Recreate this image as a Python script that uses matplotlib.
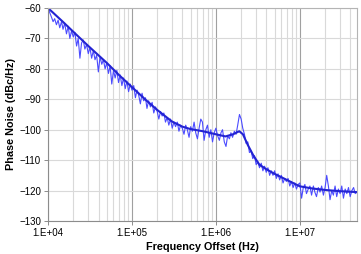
import matplotlib
matplotlib.use("Agg")
import matplotlib.pyplot as plt
from matplotlib.ticker import FuncFormatter, LogLocator, FixedLocator
import numpy as np

plt.rcParams['font.family'] = ['Liberation Sans', 'DejaVu Sans']

noisy_freq = [
    1.00e4, 1.05e4, 1.10e4, 1.15e4, 1.20e4, 1.26e4, 1.32e4, 1.38e4, 1.45e4, 1.51e4,
    1.58e4, 1.66e4, 1.74e4, 1.82e4, 1.91e4, 2.00e4, 2.09e4, 2.19e4, 2.29e4, 2.40e4,
    2.51e4, 2.63e4, 2.75e4, 2.88e4, 3.02e4, 3.16e4, 3.31e4, 3.47e4, 3.63e4, 3.80e4,
    3.98e4, 4.17e4, 4.37e4, 4.57e4, 4.79e4, 5.01e4, 5.25e4, 5.50e4, 5.75e4, 6.03e4,
    6.31e4, 6.61e4, 6.92e4, 7.24e4, 7.59e4, 7.94e4, 8.32e4, 8.71e4, 9.12e4, 9.55e4,
    1.00e5, 1.05e5, 1.10e5, 1.15e5, 1.20e5, 1.26e5, 1.32e5, 1.38e5, 1.45e5, 1.51e5,
    1.58e5, 1.66e5, 1.74e5, 1.82e5, 1.91e5, 2.00e5, 2.09e5, 2.19e5, 2.29e5, 2.40e5,
    2.51e5, 2.63e5, 2.75e5, 2.88e5, 3.02e5, 3.16e5, 3.31e5, 3.47e5, 3.63e5, 3.80e5,
    3.98e5, 4.17e5, 4.37e5, 4.57e5, 4.79e5, 5.01e5, 5.25e5, 5.50e5, 5.75e5, 6.03e5,
    6.31e5, 6.61e5, 6.92e5, 7.24e5, 7.59e5, 7.94e5, 8.32e5, 8.71e5, 9.12e5, 9.55e5,
    1.00e6, 1.05e6, 1.10e6, 1.15e6, 1.20e6, 1.26e6, 1.32e6, 1.38e6, 1.45e6, 1.51e6,
    1.58e6, 1.66e6, 1.74e6, 1.82e6, 1.91e6, 2.00e6, 2.09e6, 2.19e6, 2.29e6, 2.40e6,
    2.51e6, 2.63e6, 2.75e6, 2.88e6, 3.02e6, 3.16e6, 3.31e6, 3.47e6, 3.63e6, 3.80e6,
    3.98e6, 4.17e6, 4.37e6, 4.57e6, 4.79e6, 5.01e6, 5.25e6, 5.50e6, 5.75e6, 6.03e6,
    6.31e6, 6.61e6, 6.92e6, 7.24e6, 7.59e6, 7.94e6, 8.32e6, 8.71e6, 9.12e6, 9.55e6,
    1.00e7, 1.05e7, 1.10e7, 1.15e7, 1.20e7, 1.26e7, 1.32e7, 1.38e7, 1.45e7, 1.51e7,
    1.58e7, 1.66e7, 1.74e7, 1.82e7, 1.91e7, 2.00e7, 2.09e7, 2.19e7, 2.29e7, 2.40e7,
    2.51e7, 2.63e7, 2.75e7, 2.88e7, 3.02e7, 3.16e7, 3.31e7, 3.47e7, 3.63e7, 3.80e7,
    3.98e7, 4.17e7, 4.37e7, 4.57e7, 4.79e7,
]
noisy_db = [
    -60.0, -61.5, -63.0, -64.5, -63.5, -65.5, -64.0, -66.5, -64.5, -67.0,
    -65.0, -68.5, -66.0, -70.0, -67.5, -69.5, -68.0, -72.5, -70.0, -76.5,
    -71.5, -70.5, -73.5, -72.0, -75.0, -73.0, -76.5, -74.0, -77.0, -75.5,
    -81.0, -76.0, -78.5, -77.0, -80.0, -78.0, -81.5, -79.0, -85.0, -80.5,
    -83.0, -80.5, -84.5, -82.0, -85.5, -83.0, -86.5, -84.0, -87.5, -85.0,
    -87.0, -85.5, -89.5, -87.0, -88.5, -91.5, -88.0, -90.5, -89.5, -93.0,
    -90.5, -92.5, -91.0, -94.5, -92.5, -94.0, -96.5, -94.0, -95.5, -94.5,
    -97.5, -96.0, -98.5, -96.5, -99.5, -97.5, -99.0, -97.5, -100.5, -98.5,
    -99.5, -101.5, -98.5, -100.0, -102.5, -99.0, -100.5, -97.5, -101.0, -103.0,
    -99.5, -96.5, -97.5, -103.5, -100.0, -98.5, -102.5, -100.0, -104.0, -101.0,
    -99.5, -102.0, -103.5, -101.0, -100.0, -104.0, -105.5, -102.0, -103.0, -101.0,
    -102.5, -100.5, -101.5, -98.5, -95.0, -96.5, -99.5, -101.5, -104.5, -104.0,
    -107.5, -107.0, -109.5, -108.5, -111.5, -110.5, -112.5, -111.0, -113.5, -112.0,
    -114.0, -112.5, -115.0, -113.5, -115.0, -113.5, -116.0, -114.5, -116.5, -115.0,
    -117.5, -116.0, -117.0, -116.0, -118.5, -117.0, -119.0, -117.5, -119.5, -118.0,
    -117.5, -122.5, -119.0, -118.0, -121.0, -119.5, -118.5, -121.5, -118.5, -120.5,
    -122.0, -119.0, -120.5, -118.5, -121.5, -119.0, -115.0, -118.5, -123.0, -120.0,
    -121.5, -118.5, -122.0, -119.5, -121.0, -118.5, -122.5, -119.5, -121.0, -119.0,
    -122.0, -120.0, -119.0, -121.0, -120.5,
]

# smoothed trace
smooth_freq = [1e4, 1.5e4, 2e4, 3e4, 5e4, 7e4, 1e5, 1.5e5, 2e5, 3e5, 4e5, 5e5,
               7e5, 1e6, 1.3e6, 1.6e6, 1.9e6, 2.1e6, 2.4e6, 2.8e6, 3.3e6, 4e6,
               5e6, 7e6, 1e7, 1.4e7, 2e7, 3e7, 4.8e7]
smooth_db = [-60, -64.5, -67.8, -72.4, -78, -82, -86, -90.5, -93.5, -97.3, -99, -99.8,
             -100.5, -101.5, -102.2, -101.5, -100.5, -101.5, -105, -108.5, -111.5, -113,
             -114.5, -116.5, -118.6, -119.3, -119.8, -120.2, -120.5]

fig = plt.figure(figsize=(3.61, 2.54), dpi=100)
ax = fig.add_axes([48 / 361, 1 - 221 / 254, 309 / 361, 213 / 254])

ax.plot(noisy_freq, noisy_db, color='#4b4bff', linewidth=0.8)
ax.plot(smooth_freq, smooth_db, color='#2323d2', linewidth=1.5)

ax.set_xscale('log')
ax.set_xlim(1e4, 4.8e7)
ax.set_ylim(-130, -60)
ax.yaxis.set_major_locator(FixedLocator(np.arange(-130, -59, 10)))
ax.xaxis.set_major_locator(LogLocator(base=10))
ax.xaxis.set_minor_locator(LogLocator(base=10, subs=np.arange(2, 10)))
ax.xaxis.set_major_formatter(FuncFormatter(lambda v, p: "1.E+%02d" % round(np.log10(v))))

ax.grid(True, which='minor', axis='x', color='#d9d9d9', linewidth=0.8)
ax.grid(True, which='major', axis='x', color='#a0a0a0', linewidth=0.8)
ax.grid(True, which='major', axis='y', color='#d9d9d9', linewidth=0.8)
ax.set_axisbelow(True)

for side in ['left', 'bottom']:
    ax.spines[side].set_color('#8c8c8c')
for side in ['top', 'right']:
    ax.spines[side].set_color('#b4b4b4')

ax.tick_params(axis='both', which='major', labelsize=7, length=3, width=0.7,
               color='#8c8c8c', pad=2)
ax.tick_params(axis='x', which='minor', length=0)

ax.set_xlabel('Frequency Offset (Hz)', fontsize=7.8, fontweight='bold', labelpad=3)
ax.set_ylabel('Phase Noise (dBc/Hz)', fontsize=7.8, fontweight='bold', labelpad=2)

fig.savefig('out.png', dpi=100)
